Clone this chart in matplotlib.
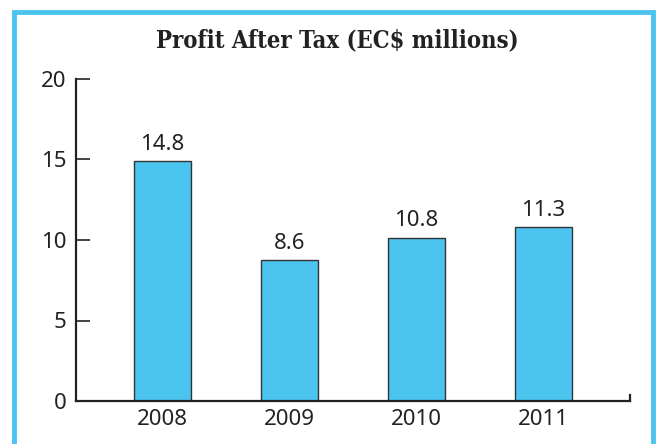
import matplotlib.pyplot as plt
from matplotlib.patches import Rectangle

# data
years = ["2008", "2009", "2010", "2011"]
heights = [14.9, 8.75, 10.15, 10.8]
value_labels = ["14.8", "8.6", "10.8", "11.3"]
yticks = [0, 5, 10, 15, 20]

blue = "#4BC4F0"

fig = plt.figure(figsize=(6.6, 4.44), dpi=100)
ax = fig.add_axes([76 / 660, 43 / 444, 554 / 660, 322 / 444])

pos = list(range(len(years)))
ax.bar(pos, heights, width=0.45, color=blue, edgecolor="#333333", linewidth=1)
for p, h, t in zip(pos, heights, value_labels):
    ax.text(p, h + 0.4, t, ha="center", va="bottom", fontsize=16,
            family="Noto Sans", color="#222222")

ax.set_xlim(-0.68, 3.68)
ax.set_ylim(0, 20)
ax.set_yticks(yticks)
ax.set_xticks(pos)
ax.set_xticklabels(years)

ax.spines["top"].set_visible(False)
ax.spines["right"].set_bounds(0, 0.4)
for s in ["left", "bottom", "right"]:
    ax.spines[s].set_linewidth(1.6)
    ax.spines[s].set_color("#222222")

ax.tick_params(axis="y", direction="in", length=10, width=1.2, pad=7,
               labelsize=16, colors="#222222")
ax.tick_params(axis="x", length=0, pad=6, labelsize=16, colors="#222222")
for lbl in ax.get_xticklabels() + ax.get_yticklabels():
    lbl.set_family("Noto Sans")

fig.text(0.511, 0.91, "Profit After Tax (EC$ millions)", ha="center", va="center",
         fontsize=17, fontweight="bold", fontstretch="condensed",
         family="DejaVu Serif", color="#222222")

# light blue frame around the chart
fig.patches.append(Rectangle((14 / 660, -0.05), 639 / 660, 1.05 - 12 / 444,
                             transform=fig.transFigure, fill=False,
                             edgecolor=blue, linewidth=3.5))

fig.savefig("out.png", dpi=100)
